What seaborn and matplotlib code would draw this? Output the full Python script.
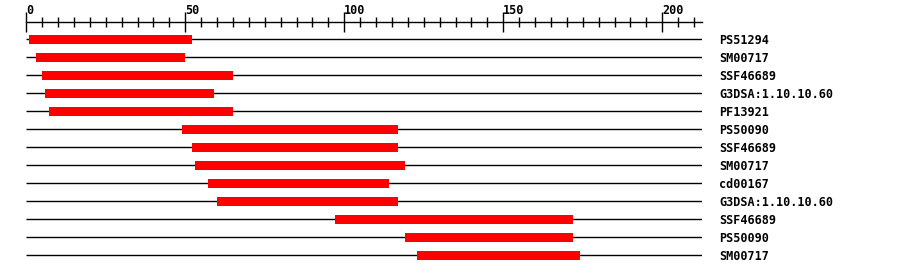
import matplotlib
matplotlib.use("Agg")
import matplotlib.pyplot as plt
import seaborn as sns
from matplotlib.ticker import MultipleLocator

labels = ["PS51294", "SM00717", "SSF46689", "G3DSA:1.10.10.60", "PF13921",
          "PS50090", "SSF46689", "SM00717", "cd00167", "G3DSA:1.10.10.60",
          "SSF46689", "PS50090", "SM00717"]
starts = [1, 3, 5, 6, 7, 49, 52, 53, 57, 60, 97, 119, 123]
ends = [52, 50, 65, 59, 65, 117, 117, 119, 114, 117, 172, 172, 174]
seq_len = 212.4

sns.set_theme(style="white")
plt.rcParams['font.family'] = ['DejaVu Sans Mono', 'DejaVu Sans']

W, H = 900, 274
fig = plt.figure(figsize=(W / 100, H / 100), dpi=100)
x0, x1 = 26.3, 701.7
ytop = 21.7
ax = fig.add_axes([x0 / W, 0, (x1 - x0) / W, 1 - ytop / H])

rows = list(range(len(labels)))
ax.hlines(rows, 0, seq_len, color="black", lw=1.0, zorder=1)
ax.barh(rows, [e - s for s, e in zip(starts, ends)], left=starts,
        height=0.5, color="#ff0000", edgecolor="none", zorder=2)

ax.set_xlim(0, seq_len)
row_top = (ytop - 39.3) / 18
row_bot = (H - 39.3) / 18
ax.set_ylim(row_bot, row_top)

sns.despine(ax=ax, top=False, left=True, right=True, bottom=True)
ax.spines['top'].set_color("black")
ax.spines['top'].set_linewidth(1.0)

ax.xaxis.set_ticks_position('top')
ax.xaxis.set_label_position('top')
ax.xaxis.set_major_locator(MultipleLocator(50))
ax.xaxis.set_minor_locator(MultipleLocator(5))
ax.tick_params(axis='x', which='major', direction='inout', length=14, width=1,
               color='black', pad=-3.5, labelsize=8.5, labelcolor='black',
               top=True, bottom=False, labeltop=True, labelbottom=False)
ax.tick_params(axis='x', which='minor', direction='inout', length=7, width=1,
               color='black', top=True, bottom=False)
for t in ax.get_xticklabels():
    t.set_horizontalalignment('left')
    t.set_fontweight('bold')

ax.yaxis.set_ticks_position('right')
ax.set_yticks(rows)
ax.set_yticklabels(labels)
ax.tick_params(axis='y', which='both', length=0, pad=12.5, labelsize=8.5,
               labelcolor='black', left=False, right=False,
               labelleft=False, labelright=True)
for t in ax.get_yticklabels():
    t.set_fontweight('bold')

ax.grid(False)
fig.savefig("out.png", dpi=100)
